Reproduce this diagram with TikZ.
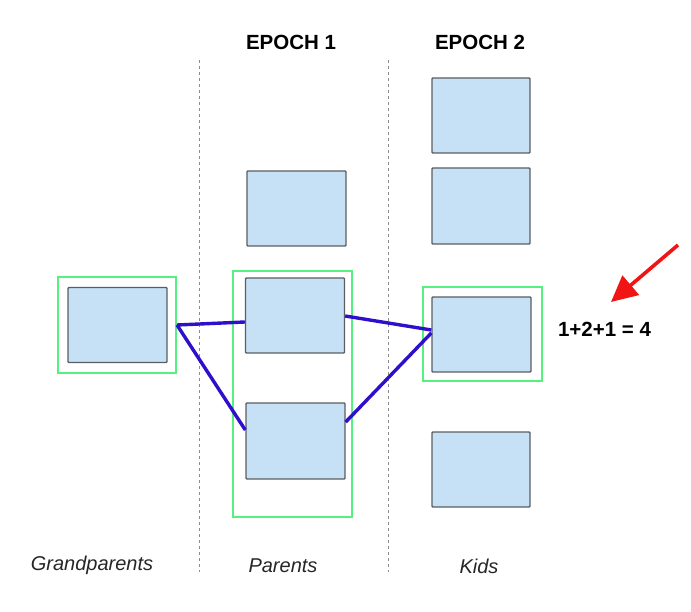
\documentclass[tikz,border=0pt]{standalone}
\usepackage{fontspec}
\setmainfont{Liberation Sans}
\usetikzlibrary{arrows.meta}
\definecolor{boxfill}{HTML}{C6E0F5}
\definecolor{boxline}{HTML}{5A5E62}
\definecolor{grn}{HTML}{55F080}
\definecolor{lnk}{HTML}{2E10CC}
\definecolor{arr}{HTML}{F01414}
\tikzset{
  cell/.style={draw=boxline, line width=1.4pt, fill=boxfill, rounded corners=0.8pt},
  sel/.style={draw=grn, line width=2pt},
  link/.style={draw=lnk, line width=3.4pt},
  sep/.style={draw=gray!90, line width=1pt, dash pattern=on 3pt off 3pt},
  head/.style={font=\fontsize{20.5}{24}\selectfont\bfseries, inner sep=0pt},
  gen/.style={font=\fontsize{20}{24}\selectfont\itshape, text=black!85, inner sep=0pt},
}
\begin{document}
\begin{tikzpicture}[x=1pt,y=-1pt]
\useasboundingbox (0,0) rectangle (691,612);
% separators
\coordinate (s1t) at (199,60); \coordinate (s1b) at (199,572);
\coordinate (s2t) at (388,60); \coordinate (s2b) at (388,572);
\draw[sep] (s1t) -- (s1b);
\draw[sep] (s2t) -- (s2b);
% headings
\node[head] (e1) at (291,42) {EPOCH 1};
\node[head] (e2) at (480,42) {EPOCH 2};
% grandparent
\node[minimum width=118pt, minimum height=96pt, inner sep=0pt, sel] (gp) at (117,325) {};
\node[cell, minimum width=99pt, minimum height=75pt] (gpin) at (117.5,325) {};
% parents
\node[minimum width=119pt, minimum height=246pt, inner sep=0pt, sel] (pg) at (292.5,394) {};
\node[cell, minimum width=99pt, minimum height=75pt] (p0) at (296.5,208.5) {};
\node[cell, minimum width=99pt, minimum height=75pt] (p1) at (295,315.5) {};
\node[cell, minimum width=99pt, minimum height=76pt] (p2) at (295.5,441) {};
% kids
\node[cell, minimum width=98pt, minimum height=75pt] (k1) at (481,115.5) {};
\node[cell, minimum width=98pt, minimum height=76pt] (k2) at (481,206) {};
\node[minimum width=119pt, minimum height=94pt, inner sep=0pt, sel] (kg) at (482.5,334) {};
\node[cell, minimum width=99pt, minimum height=75pt] (k3) at (481.5,334.5) {};
\node[cell, minimum width=98pt, minimum height=75pt] (k4) at (481,469.5) {};
% links
\draw[link] (gp.east) -- ([yshift=-6.5pt]p1.west);
\draw[link] (gp.east) -- ([yshift=11pt]p2.west);
\draw[link] ([yshift=-0.5pt]p1.east) -- ([yshift=4.5pt]k3.west);
\draw[link] ([yshift=19pt]p2.east) -- ([yshift=1.5pt]k3.west);
% count
\node[head] (cnt) at (604.5,329) {1+2+1 = 4};
\coordinate (as) at (678,245);
\coordinate (ae) at (611,302);
\draw[draw=arr, line width=3.6pt, -{Triangle[length=26pt, width=25pt]}, arr] (as) -- (ae);
% generation labels
\node[gen] (lg) at (92,565) {Grandparents};
\node[gen] (lp) at (283,566) {Parents};
\node[gen] (lk) at (479,566) {Kids};
\end{tikzpicture}
\end{document}
